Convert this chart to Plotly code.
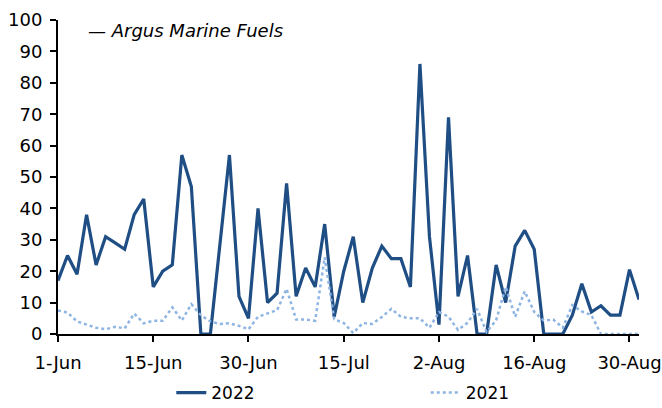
import plotly.graph_objects as go

# category positions (trading days) and tick labels
n_points = 62
tick_positions = [0, 10, 20, 30, 40, 50, 60]
tick_labels = ["1-Jun", "15-Jun", "30-Jun", "15-Jul", "2-Aug", "16-Aug", "30-Aug"]

series_2022 = [17, 25, 19, 38, 22, 31, 29, 27, 38, 43,
               15, 20, 22, 57, 47, 0, 0, 28, 57, 12,
               5, 40, 10, 13, 48, 12, 21, 15, 35, 5.5,
               20, 31, 10, 21, 28, 24, 24, 15, 86, 31,
               3, 69, 12, 25, 0, 0, 22, 10, 28, 33,
               27, 0, 0, 0, 6, 16, 7, 9, 6, 6,
               20.5, 11]

series_2021 = [7.5, 6.8, 4, 3, 2, 1.5, 2.3, 1.8, 6.5, 3.4,
               4.2, 4.2, 8.5, 4.3, 9.5, 6, 4, 3.2, 3.4, 2.6,
               1.5, 5.5, 6.5, 7.6, 14.4, 4.6, 4.6, 4.2, 24.4, 4.7,
               3.5, 0.3, 3.5, 3.2, 5.4, 8, 5.5, 5, 5, 2,
               7, 5.5, 1.3, 3.6, 8, 0.6, 4.4, 15, 5.5, 13.6,
               7, 4.3, 4.6, 2, 9.2, 7.2, 6, 0, 0, 0,
               0, 0]

x = list(range(n_points))
FONT = "DejaVu Sans"

fig = go.Figure()
fig.add_trace(go.Scatter(x=x, y=series_2022, mode="lines", name="2022",
                         line=dict(color="#1F4E84", width=3.2), legend="legend"))
fig.add_trace(go.Scatter(x=x, y=series_2021, mode="lines", name="2021",
                         line=dict(color="#8DB4E2", width=2.5, dash="dot"),
                         legend="legend2"))

leg_common = dict(orientation="h", yanchor="middle", xanchor="left",
                  font=dict(family=FONT, size=17, color="black"),
                  itemwidth=30, bgcolor="rgba(0,0,0,0)", tracegroupgap=0)

fig.update_layout(
    width=662, height=408,
    margin=dict(l=58, r=23, t=20, b=74, autoexpand=False),
    paper_bgcolor="white", plot_bgcolor="white",
    font=dict(family=FONT, size=18, color="black"),
    showlegend=True,
    legend=dict(x=0.195, y=-0.188, **leg_common),
    legend2=dict(x=0.633, y=-0.188, **leg_common),
    annotations=[dict(text="<i>— Argus Marine Fuels</i>", x=0.048, y=0.965,
                      xref="paper", yref="paper", xanchor="left", yanchor="middle",
                      showarrow=False, font=dict(family=FONT, size=18))],
)
fig.update_xaxes(range=[0, n_points - 1], tickmode="array", tickvals=tick_positions,
                 ticktext=tick_labels, showgrid=False, zeroline=False,
                 showline=True, linecolor="black", linewidth=2,
                 ticks="outside", ticklen=6, tickcolor="black", tickwidth=1.5,
                 ticklabelstandoff=5)
fig.update_yaxes(range=[0, 100], dtick=10, showgrid=False, zeroline=False,
                 showline=True, linecolor="black", linewidth=2,
                 ticks="outside", ticklen=6, tickcolor="black", tickwidth=1.5,
                 ticklabelstandoff=4)

fig.write_html("out.html", config={"displayModeBar": False},
               post_script="document.body.style.margin='0';document.body.style.overflow='hidden';")
